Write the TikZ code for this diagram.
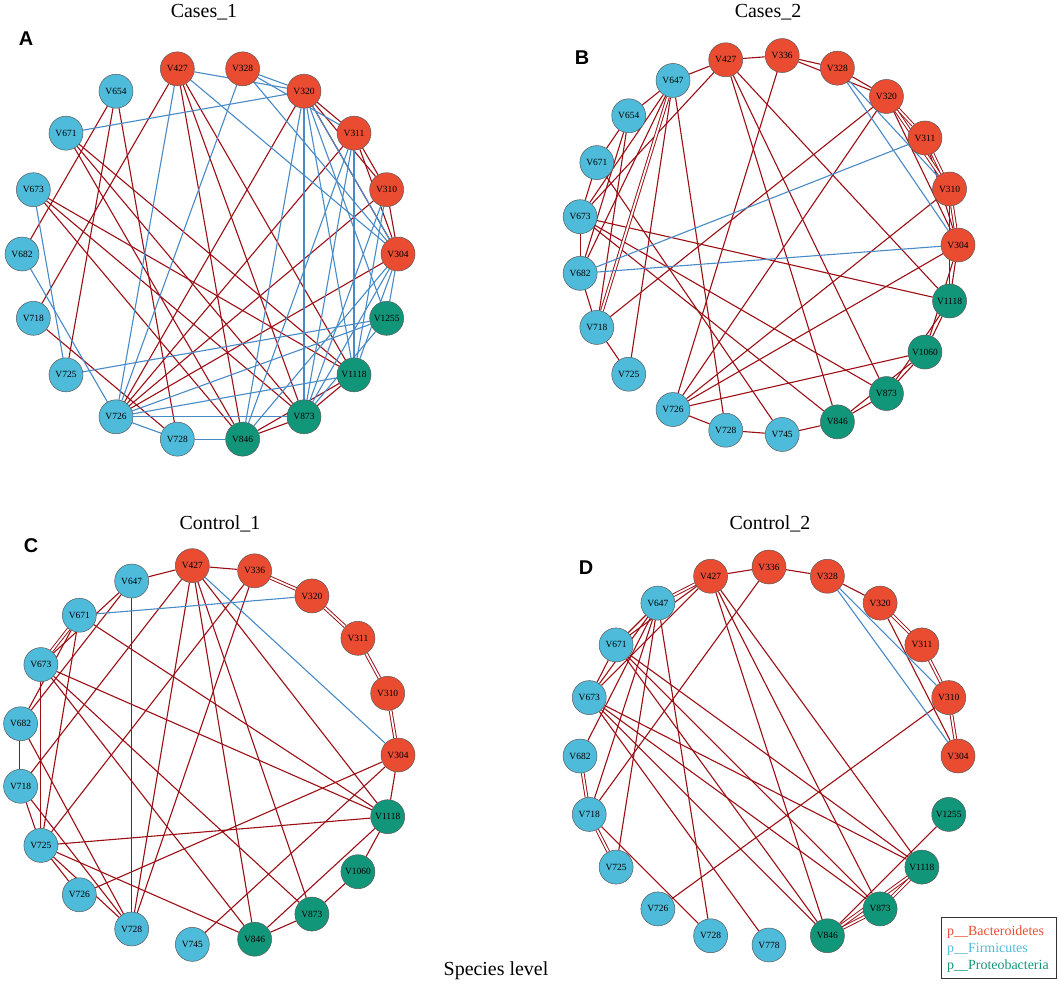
\documentclass[tikz,border=0pt]{standalone}
\usepackage{fontspec}
\setmainfont{Liberation Serif}
\newfontfamily\lettfont{Liberation Sans}
\usetikzlibrary{backgrounds}
\definecolor{bacc}{RGB}{234,76,50}
\definecolor{firc}{RGB}{78,187,218}
\definecolor{proc}{RGB}{18,150,122}
\definecolor{edr}{RGB}{155,14,20}
\definecolor{edb}{RGB}{72,138,198}
\tikzset{
  nd/.style={circle, draw=black!65, line width=0.5bp, minimum size=34bp, inner sep=0pt, font=\fontsize{9.5}{9.5}\selectfont},
  bac/.style={nd, fill=bacc},
  fir/.style={nd, fill=firc},
  pro/.style={nd, fill=proc},
  re/.style={draw=edr, line width=1.1bp},
  be/.style={draw=edb, line width=1.1bp},
  dbl/.style={double distance=1.8bp, double=white, line width=0.95bp},
  ttl/.style={font=\fontsize{20}{20}\selectfont},
  lett/.style={font=\lettfont\bfseries\fontsize{20}{20}\selectfont},
  leg/.style={anchor=west, font=\fontsize{14}{14}\selectfont, inner sep=0pt}
}
\begin{document}
\begin{tikzpicture}[x=1bp,y=1bp]
\useasboundingbox (0,0) rectangle (1059,-985);
% titles and letters
\node[ttl] (t1) at (204,-12) {Cases\_1};
\node[ttl] (t2) at (768,-12) {Cases\_2};
\node[ttl] (t3) at (220,-524) {Control\_1};
\node[ttl] (t4) at (770,-524) {Control\_2};
\node[lett] (lA) at (26,-39) {A};
\node[lett] (lB) at (582,-58) {B};
\node[lett] (lC) at (31,-546) {C};
\node[lett] (lD) at (586,-568) {D};
\node[ttl] (sp) at (496,-971) {Species level};
% legend
\node[draw=black!80, line width=1bp, minimum width=115bp, minimum height=61bp, inner sep=0pt] (legbox) at (998.5,-947.5) {};
\node[leg, text=bacc] (l1) at (947,-932) {p\_\_Bacteroidetes};
\node[leg, text=firc] (l2) at (947,-949) {p\_\_Firmicutes};
\node[leg, text=proc] (l3) at (947,-966) {p\_\_Proteobacteria};

% ---------------- Panel A
\begin{scope}[shift={(210,-254)}]
\def\R{188}
\node[bac] (a427) at (100:\R) {V427};
\node[bac] (a328) at (80:\R) {V328};
\node[bac] (a320) at (60:\R) {V320};
\node[bac] (a311) at (40:\R) {V311};
\node[bac] (a310) at (20:\R) {V310};
\node[bac] (a304) at (0:\R) {V304};
\node[pro] (a1255) at (-20:\R) {V1255};
\node[pro] (a1118) at (-40:\R) {V1118};
\node[pro] (a873) at (-60:\R) {V873};
\node[pro] (a846) at (-80:\R) {V846};
\node[fir] (a728) at (-100:\R) {V728};
\node[fir] (a726) at (-120:\R) {V726};
\node[fir] (a725) at (-140:\R) {V725};
\node[fir] (a718) at (-160:\R) {V718};
\node[fir] (a682) at (180:\R) {V682};
\node[fir] (a673) at (160:\R) {V673};
\node[fir] (a671) at (140:\R) {V671};
\node[fir] (a654) at (120:\R) {V654};
\end{scope}

% ---------------- Panel B
\begin{scope}[shift={(768,-245)}]
\def\R{190}
\def\s{17.142857}
\node[bac] (b304) at (0*\s:\R) {V304};
\node[bac] (b310) at (1*\s:\R) {V310};
\node[bac] (b311) at (2*\s:\R) {V311};
\node[bac] (b320) at (3*\s:\R) {V320};
\node[bac] (b328) at (4*\s:\R) {V328};
\node[bac] (b336) at (5*\s:\R) {V336};
\node[bac] (b427) at (6*\s:\R) {V427};
\node[fir] (b647) at (7*\s:\R) {V647};
\node[fir] (b654) at (8*\s:\R) {V654};
\node[fir] (b671) at (9*\s:\R) {V671};
\node[fir] (b673) at (10*\s:\R) {V673};
\node[fir] (b682) at (11*\s:\R) {V682};
\node[fir] (b718) at (12*\s:\R) {V718};
\node[fir] (b725) at (13*\s:\R) {V725};
\node[fir] (b726) at (14*\s:\R) {V726};
\node[fir] (b728) at (15*\s:\R) {V728};
\node[fir] (b745) at (16*\s:\R) {V745};
\node[pro] (b846) at (17*\s:\R) {V846};
\node[pro] (b873) at (18*\s:\R) {V873};
\node[pro] (b1060) at (19*\s:\R) {V1060};
\node[pro] (b1118) at (20*\s:\R) {V1118};
\end{scope}

% ---------------- Panel C
\begin{scope}[shift={(208,-755)}]
\def\R{190}
\def\s{18.947368}
\node[bac] (c304) at (0*\s:\R) {V304};
\node[bac] (c310) at (1*\s:\R) {V310};
\node[bac] (c311) at (2*\s:\R) {V311};
\node[bac] (c320) at (3*\s:\R) {V320};
\node[bac] (c336) at (4*\s:\R) {V336};
\node[bac] (c427) at (5*\s:\R) {V427};
\node[fir] (c647) at (6*\s:\R) {V647};
\node[fir] (c671) at (7*\s:\R) {V671};
\node[fir] (c673) at (8*\s:\R) {V673};
\node[fir] (c682) at (9*\s:\R) {V682};
\node[fir] (c718) at (10*\s:\R) {V718};
\node[fir] (c725) at (11*\s:\R) {V725};
\node[fir] (c726) at (12*\s:\R) {V726};
\node[fir] (c728) at (13*\s:\R) {V728};
\node[fir] (c745) at (14*\s:\R) {V745};
\node[pro] (c846) at (15*\s:\R) {V846};
\node[pro] (c873) at (16*\s:\R) {V873};
\node[pro] (c1060) at (17*\s:\R) {V1060};
\node[pro] (c1118) at (18*\s:\R) {V1118};
\end{scope}

% ---------------- Panel D
\begin{scope}[shift={(769,-756)}]
\def\R{189}
\node[bac] (d304) at (0:\R) {V304};
\node[bac] (d310) at (18:\R) {V310};
\node[bac] (d311) at (36:\R) {V311};
\node[bac] (d320) at (54:\R) {V320};
\node[bac] (d328) at (72:\R) {V328};
\node[bac] (d336) at (90:\R) {V336};
\node[bac] (d427) at (108:\R) {V427};
\node[fir] (d647) at (126:\R) {V647};
\node[fir] (d671) at (144:\R) {V671};
\node[fir] (d673) at (162:\R) {V673};
\node[fir] (d682) at (180:\R) {V682};
\node[fir] (d718) at (198:\R) {V718};
\node[fir] (d725) at (216:\R) {V725};
\node[fir] (d726) at (234:\R) {V726};
\node[fir] (d728) at (252:\R) {V728};
\node[fir] (d778) at (270:\R) {V778};
\node[pro] (d846) at (288:\R) {V846};
\node[pro] (d873) at (306:\R) {V873};
\node[pro] (d1118) at (324:\R) {V1118};
\node[pro] (d1255) at (342:\R) {V1255};
\end{scope}

\begin{pgfonlayer}{background}
% Panel A
\foreach \u/\v in {a427/a718,a427/a846,a427/a873,a427/a1118,
  a654/a682,a654/a725,a654/a728,
  a671/a1118,a671/a873,a671/a846,
  a673/a1118,a673/a873,a673/a846,a718/a728,
  a320/a311,a320/a310,a320/a304,a311/a310,a311/a304,a310/a304,
  a320/a726,a311/a726,a310/a726,a304/a726,
  a846/a873,a846/a1118,a873/a1118}
  \draw[re] (\u) -- (\v);
\foreach \u/\v in {a427/a320,a427/a304,a427/a726,
  a328/a320,a328/a311,a328/a304,a328/a726,a671/a320,
  a320/a873,a320/a1118,a320/a846,a320/a1255,a320/a304,
  a311/a873,a311/a1118,a311/a846,a310/a873,a310/a1118,
  a304/a873,a304/a1118,a304/a846,a304/a1255,
  a1255/a725,a1255/a726,a1255/a873,
  a1118/a726,a726/a873,a728/a846,a726/a728,a673/a725,a682/a726}
  \draw[be] (\u) -- (\v);
% Panel B
\foreach \u/\v in {b647/b427,b427/b336,b336/b328,b336/b320,b328/b320,
  b320/b304,b311/b304,b304/b1118,b310/b1118,b1118/b1060,b1118/b873,b304/b1060,
  b1060/b873,b1060/b846,b873/b846,b846/b745,b745/b728,b728/b726,b726/b1060,
  b726/b336,b726/b320,b726/b310,b726/b304,
  b427/b673,b427/b846,b427/b873,b427/b1118,b320/b718,
  b673/b1118,b673/b873,b673/b846,b671/b745,
  b647/b654,b647/b673,b647/b682,b647/b718,b647/b725,b647/b728,
  b654/b671,b654/b718,b654/b682,
  b671/b673,b673/b682,b682/b718,b718/b725}
  \draw[re] (\u) -- (\v);
\foreach \u/\v in {b320/b311,b320/b310,b311/b310,b310/b304,b647/b718}
  \draw[re,dbl] (\u) -- (\v);
\foreach \u/\v in {b328/b310,b328/b304,b311/b682,b304/b682}
  \draw[be] (\u) -- (\v);
% Panel C
\foreach \u/\v in {c647/c427,c427/c336,c304/c1118,c1118/c1060,c1060/c873,c873/c846,c846/c1118,
  c745/c304,c726/c304,
  c427/c1118,c427/c873,c427/c846,c427/c728,c427/c718,
  c336/c728,c336/c725,
  c647/c728,c647/c673,c647/c682,
  c671/c682,c671/c725,c671/c1118,
  c673/c1118,c673/c873,c673/c846,c673/c725,
  c682/c728,c718/c725,c718/c728,
  c725/c1118,c725/c846,c725/c726,c725/c728}
  \draw[re] (\u) -- (\v);
\foreach \u/\v in {c336/c320,c320/c311,c311/c310,c310/c304,c682/c718,c671/c673}
  \draw[re,dbl] (\u) -- (\v);
\foreach \u/\v in {c427/c304,c671/c320}
  \draw[be] (\u) -- (\v);
% Panel D
\foreach \u/\v in {d427/d336,d336/d328,d328/d320,d320/d304,
  d310/d726,d336/d718,
  d427/d846,d427/d873,d427/d1118,d427/d671,d427/d673,
  d647/d671,d647/d673,d647/d682,d647/d718,d647/d725,d647/d728,
  d671/d673,d671/d846,d671/d873,d671/d1118,
  d673/d1118,d673/d873,d673/d846,d673/d778,
  d718/d728,d846/d1255}
  \draw[re] (\u) -- (\v);
\foreach \u/\v in {d647/d427,d320/d311,d311/d310,d310/d304,d682/d718,d718/d725,
  d846/d873,d846/d1118,d873/d1118}
  \draw[re,dbl] (\u) -- (\v);
\foreach \u/\v in {d328/d310,d328/d304}
  \draw[be] (\u) -- (\v);
\end{pgfonlayer}
\end{tikzpicture}
\end{document}
